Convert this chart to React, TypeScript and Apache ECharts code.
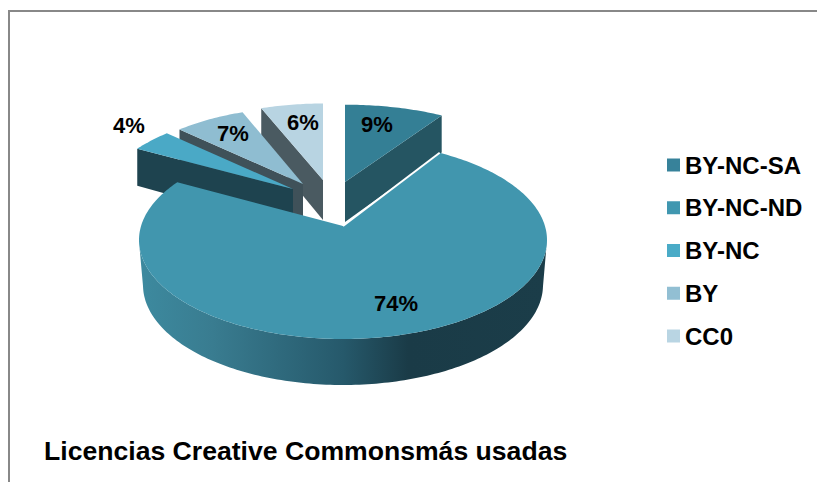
import React, { useEffect, useRef } from "react";
import * as echarts from "echarts";

const categories = ["BY-NC-SA", "BY-NC-ND", "BY-NC", "BY", "CC0"];
const shares = [9, 74, 4, 7, 6];
const titleText = "Licencias Creative Commonsmás usadas";

const legendColors = ["#37829a", "#4097b0", "#4aabc7", "#92bfd3", "#b9d5e3"];
const topColors = ["#347f95", "#4196ae", "#4aa9c6", "#8fbdd1", "#b8d4e2"];
const wallColors = ["#255562", "#25586a", "#1e434f", "#3f5159", "#4a5a61"];

// Back-to-front painting order of the wedges.
const paintOrder = [4, 3, 2, 0, 1];

// Perspective disc: ellipses of the top and bottom faces, with the disc centre pulled back.
const TOP = { cx: 343, cy: 240, rx: 204, ry: 99, back: 0.1414 };
const BOTTOM = { cx: 343, cy: 285, rx: 200, ry: 100, back: 0.18 };

// Pulled-out wedges: apex position and foreshortening. null means the wedge stays in the disc.
const wedgeLayout = [
  { ax: 345, ay: 182, sx: 1.0, sy: 0.91 },
  null,
  { ax: 293, ay: 189, sx: 0.94, sy: 0.92 },
  { ax: 303, ay: 184, sx: 0.92, sy: 0.9 },
  { ax: 323, ay: 180, sx: 0.94, sy: 0.9 },
];
const APEX_DEPTH = 40;
const RIM_DEPTH = 37;

const labelAnchors = [
  [377, 124],
  [396, 303],
  [129, 125],
  [233, 133],
  [303, 122],
];

const total = shares.reduce((a, b) => a + b, 0);

function project(e: typeof TOP, deg: number, r = 1) {
  const t = (deg * Math.PI) / 180;
  const u = r * Math.sin(t);
  const v = r * Math.cos(t);
  const d = 1 + e.back * v;
  return [
    e.cx + (e.rx * u * Math.sqrt(1 - e.back * e.back)) / d,
    e.cy - (e.ry * (v + e.back)) / d,
  ];
}

function arcPoints(e: typeof TOP, from: number, to: number) {
  const pts: number[][] = [];
  const steps = Math.max(2, Math.ceil(Math.abs(to - from)));
  for (let i = 0; i <= steps; i++) pts.push(project(e, from + ((to - from) * i) / steps));
  return pts;
}

function wedgeAngles(index: number) {
  const before = shares.slice(0, index).reduce((a, b) => a + b, 0);
  return [(before / total) * 360, ((before + shares[index]) / total) * 360];
}

const sideGradient = () =>
  new echarts.graphic.LinearGradient(0, 0, 1, 0, [
    { offset: 0, color: "#3d8a9f" },
    { offset: 0.18, color: "#397c90" },
    { offset: 0.5, color: "#26596b" },
    { offset: 0.66, color: "#1a3b47" },
    { offset: 1, color: "#1b3d49" },
  ]);

function renderWedge(params: any, api: any) {
  const index = paintOrder[params.seriesIndex];
  const [from, to] = wedgeAngles(index);
  const centre = project(TOP, 0, 0);
  const layout = wedgeLayout[index];
  const children: any[] = [];

  if (!layout) {
    const top = arcPoints(TOP, from, to);
    // Only the front half of each rim forms the outer silhouette of the side wall.
    const frontTop = top.filter((p) => p[1] >= TOP.cy);
    const frontBottom = arcPoints(BOTTOM, from, to)
      .filter((p) => p[1] >= BOTTOM.cy)
      .reverse();
    children.push({
      type: "polygon",
      shape: { points: [...frontTop, ...frontBottom] },
      style: { fill: sideGradient() },
    });
    children.push({
      type: "polygon",
      shape: { points: [centre, ...top] },
      style: { fill: topColors[index] },
    });
    // Thin light seam along the cut facing the neighbouring wedge.
    children.push({
      type: "line",
      shape: { x1: centre[0], y1: centre[1], x2: top[0][0], y2: top[0][1] },
      style: { stroke: "#ffffff", lineWidth: 2 },
    });
  } else {
    const place = (p: number[]) => [
      layout.ax + (p[0] - centre[0]) * layout.sx,
      layout.ay + (p[1] - centre[1]) * layout.sy,
    ];
    const rim = arcPoints(TOP, from, to).map(place);
    const mid = (from + to) / 2;
    const edge = mid < 180 ? rim[rim.length - 1] : rim[0];
    children.push({
      type: "polygon",
      shape: {
        points: [
          [layout.ax, layout.ay],
          edge,
          [edge[0], edge[1] + RIM_DEPTH],
          [layout.ax, layout.ay + APEX_DEPTH],
        ],
      },
      style: { fill: wallColors[index] },
    });
    children.push({
      type: "polygon",
      shape: { points: [[layout.ax, layout.ay], ...rim] },
      style: { fill: topColors[index] },
    });
  }

  children.push({
    type: "text",
    x: labelAnchors[index][0],
    y: labelAnchors[index][1],
    z2: 10,
    style: {
      text: `${api.value(0)}%`,
      fill: "#000",
      font: 'bold 22px "Liberation Sans"',
      align: "center",
      verticalAlign: "middle",
    },
  });
  return { type: "group", children };
}

export default function App() {
  const ref = useRef<HTMLDivElement>(null);
  useEffect(() => {
    const chart = echarts.init(ref.current!, null, { renderer: "svg" });
    chart.setOption({
      animation: false,
      backgroundColor: "#fff",
      legend: {
        data: categories,
        orient: "vertical",
        left: 662,
        top: 148,
        icon: "rect",
        itemWidth: 13,
        itemHeight: 13,
        itemGap: 18.75,
        selectedMode: false,
        textStyle: {
          fontFamily: "Liberation Sans",
          fontWeight: "bold",
          fontSize: 24,
          lineHeight: 24,
          color: "#000",
          padding: [0, 0, 0, 0],
        },
      },
      graphic: [
        {
          type: "polyline",
          silent: true,
          shape: { points: [[9, 482], [9, 11], [817, 11]] },
          style: { stroke: "#888888", lineWidth: 2, fill: "none" },
        },
        {
          type: "text",
          x: 44,
          y: 451,
          silent: true,
          style: {
            text: titleText,
            fill: "#000",
            font: 'bold 26.6px "Liberation Sans"',
            verticalAlign: "middle",
          },
        },
      ],
      series: paintOrder.map((i) => ({
        type: "custom",
        name: categories[i],
        coordinateSystem: "none",
        silent: true,
        itemStyle: { color: legendColors[i] },
        data: [[shares[i]]],
        renderItem: renderWedge,
      })),
    });
    return () => chart.dispose();
  }, []);
  return <div ref={ref} style={{ position: "absolute", left: 0, top: 0, width: 817, height: 482 }} />;
}
